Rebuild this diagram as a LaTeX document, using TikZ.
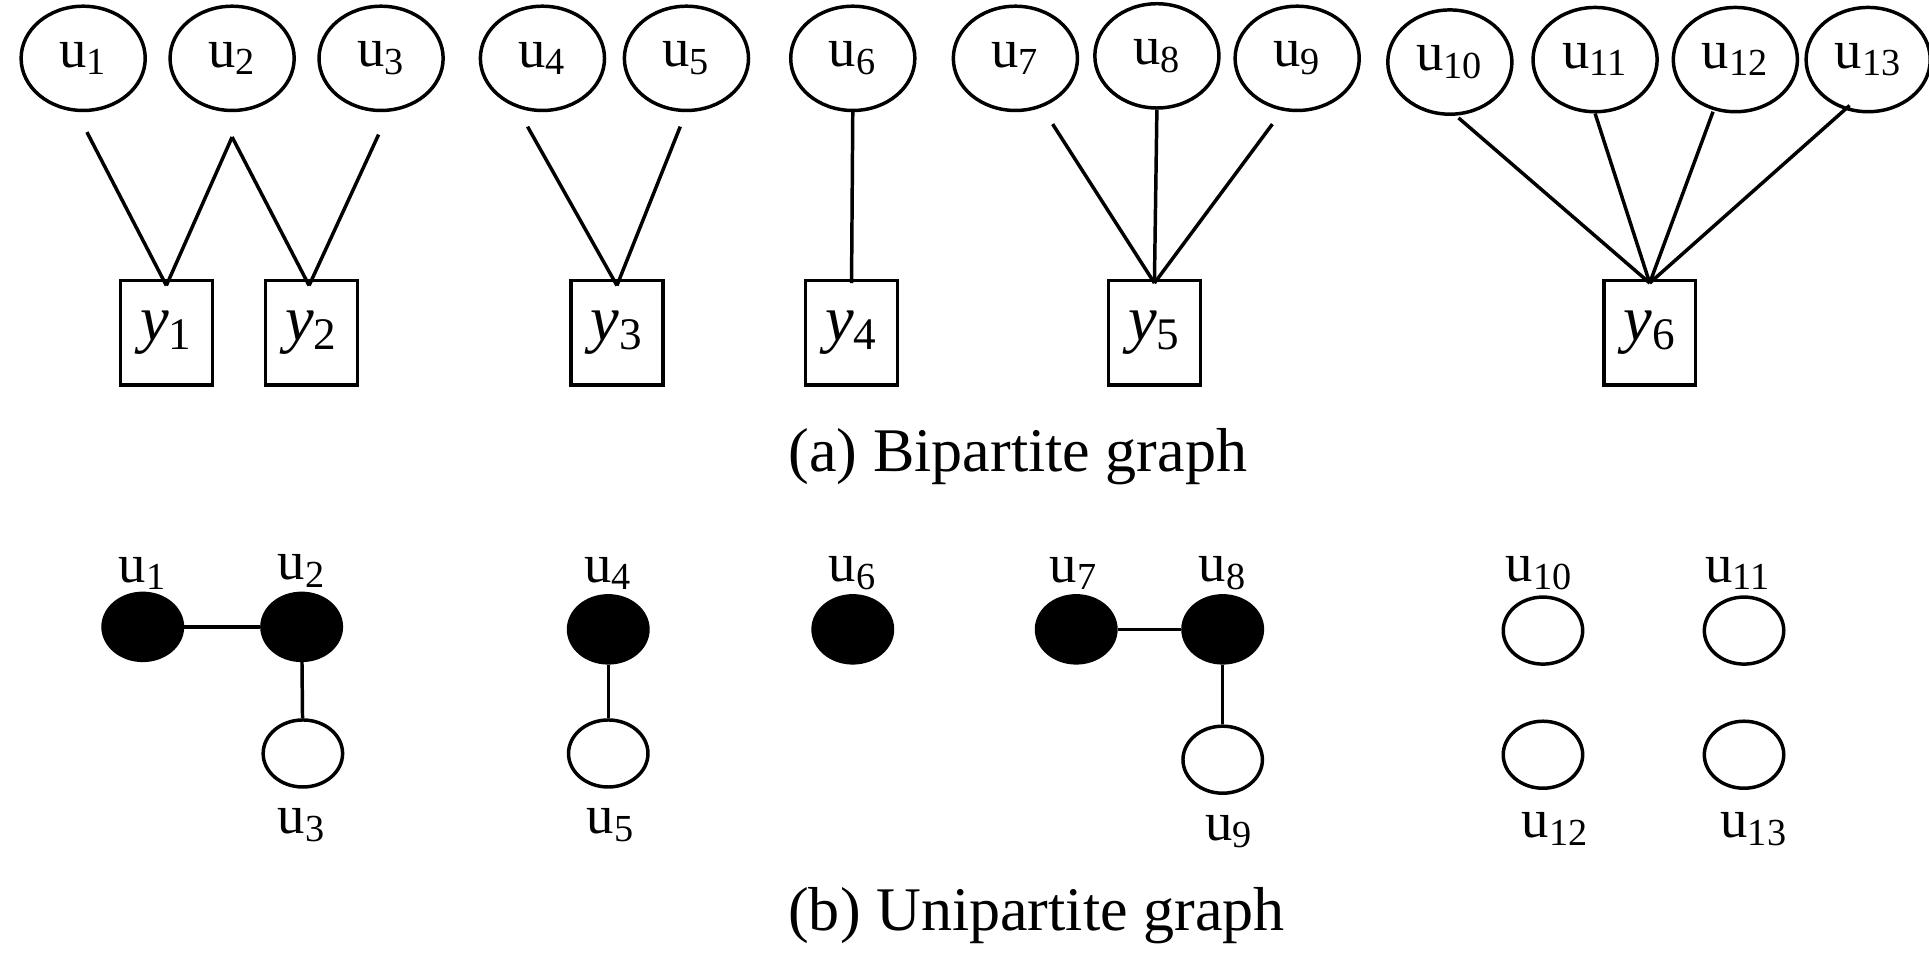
\documentclass[tikz,border=0pt]{standalone}
\usepackage{fontspec}
\setmainfont{Liberation Serif}
\usetikzlibrary{shapes.geometric}
\begin{document}
\begin{tikzpicture}[x=0.5pt,y=-0.5pt,line width=1.4pt,
 top/.style={ellipse,draw,minimum width=50pt,minimum height=42pt,inner sep=0pt,font=\fontsize{22}{24}\selectfont},
 sq/.style={rectangle,draw,minimum width=37pt,minimum height=42pt,inner sep=0pt,font=\fontsize{26}{28}\selectfont},
 bl/.style={ellipse,draw,fill=black,minimum width=32pt,minimum height=27pt,inner sep=0pt},
 wh/.style={ellipse,draw,fill=white,minimum width=32pt,minimum height=27pt,inner sep=0pt},
 lb/.style={font=\fontsize{22}{24}\selectfont},
 captxt/.style={font=\fontsize{25}{28}\selectfont}]
\useasboundingbox (0,0) rectangle (1554,777);
\node[top] (a1) at (67,47) {u\textsubscript{1}};
\node[top] (a2) at (187,47) {u\textsubscript{2}};
\node[top] (a3) at (307,47) {u\textsubscript{3}};
\node[top] (a4) at (437,47) {u\textsubscript{4}};
\node[top] (a5) at (553,47) {u\textsubscript{5}};
\node[top] (a6) at (687,47) {u\textsubscript{6}};
\node[top] (a7) at (818,47) {u\textsubscript{7}};
\node[top] (a8) at (932,45) {u\textsubscript{8}};
\node[top] (a9) at (1045,47) {u\textsubscript{9}};
\node[top] (a10) at (1168,50) {u\textsubscript{10}};
\node[top] (a11) at (1285,48) {u\textsubscript{11}};
\node[top] (a12) at (1398,48) {u\textsubscript{12}};
\node[top] (a13) at (1505,48) {u\textsubscript{13}};
\node[sq] (y1) at (134,268) {\textit{y}\textsubscript{1}};
\node[sq] (y2) at (251,268) {\textit{y}\textsubscript{2}};
\node[sq] (y3) at (497,268) {\textit{y}\textsubscript{3}};
\node[sq] (y4) at (686,268) {\textit{y}\textsubscript{4}};
\node[sq] (y5) at (930,268) {\textit{y}\textsubscript{5}};
\node[sq] (y6) at (1329,268) {\textit{y}\textsubscript{6}};
\coordinate (t1) at (134,230); \coordinate (t2) at (249,230);
\coordinate (t3) at (497,230); \coordinate (t4) at (686,228);
\coordinate (t5) at (930,228); \coordinate (t6) at (1329,228);
\draw (a1.south) ++(3,16) -- (t1);
\draw (a2.south) ++(0,20) coordinate (p2) -- (t1);
\draw (p2) -- (t2);
\draw (a3.south) ++(-2,18) -- (t2);
\draw (a4) ++(-12,55) -- (t3);
\draw (a5) ++(-5,55) -- (t3);
\draw (a6.south) -- (t4);
\draw (a7) ++(30,53) -- (t5);
\draw (a8.south) -- (t5);
\draw (a9) ++(-20,53) -- (t5);
\draw (a10) ++(7,45) -- (t6);
\draw (a11.south) -- (t6);
\draw (a12) ++(-18,42) -- (t6);
\draw (a13) ++(-15,37) -- (t6);
\node[captxt] (ca) at (820,368) {(a) Bipartite graph};
% bottom
\node[bl] (b1) at (115,505) {}; \node[bl] (b2) at (243,505) {}; \node[wh] (b3) at (244,607) {};
\node[bl] (b4) at (490,507) {}; \node[wh] (b5) at (490,607) {};
\node[bl] (b6) at (687,507) {};
\node[bl] (b7) at (867,507) {}; \node[bl] (b8) at (985,507) {}; \node[wh] (b9) at (985,612) {};
\node[wh] (b10) at (1243,508) {}; \node[wh] (b11) at (1405,508) {};
\node[wh] (b12) at (1243,608) {}; \node[wh] (b13) at (1405,608) {};
\draw (b1) -- (b2); \draw (b2) -- (b3); \draw (b4) -- (b5);
\draw (b7) -- (b8); \draw (b8) -- (b9);
\node[lb] (l1) at (115,462) {u\textsubscript{1}};
\node[lb] (l2) at (243,460) {u\textsubscript{2}};
\node[lb] (l3) at (243,665) {u\textsubscript{3}};
\node[lb] (l4) at (490,462) {u\textsubscript{4}};
\node[lb] (l5) at (492,665) {u\textsubscript{5}};
\node[lb] (l6) at (687,462) {u\textsubscript{6}};
\node[lb] (l7) at (865,462) {u\textsubscript{7}};
\node[lb] (l8) at (985,462) {u\textsubscript{8}};
\node[lb] (l9) at (990,670) {u\textsubscript{9}};
\node[lb] (l10) at (1240,462) {u\textsubscript{10}};
\node[lb] (l11) at (1400,462) {u\textsubscript{11}};
\node[lb] (l12) at (1253,668) {u\textsubscript{12}};
\node[lb] (l13) at (1413,668) {u\textsubscript{13}};
\node[captxt] (cb) at (835,738) {(b) Unipartite graph};
\end{tikzpicture}
\end{document}
